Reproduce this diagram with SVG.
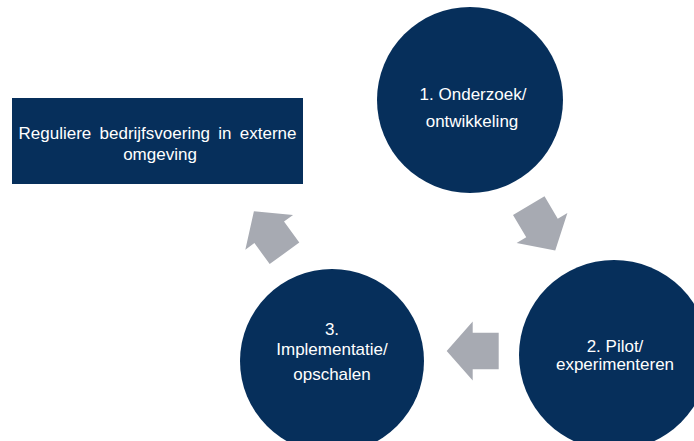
<svg xmlns="http://www.w3.org/2000/svg" width="694" height="441" viewBox="0 0 694 441">
<defs>
<style>
.node{fill:#062f5b}
.lbl{fill:#ffffff;font-family:"Liberation Sans",Arial,sans-serif;font-size:17px;text-anchor:middle}
.arrow{fill:#a7aab2}
</style>
<path id="blk" d="M-26,-18.3 L0,-18.3 L0,-29.5 L26,0 L0,29.5 L0,18.3 L-26,18.3 Z"/>
</defs>
<rect width="694" height="441" fill="#ffffff"/>
<g id="connectors">
<use href="#blk" class="arrow" transform="translate(542,228) rotate(59.4)"/>
<use href="#blk" class="arrow" transform="translate(472.7,351) rotate(180)"/>
<use href="#blk" class="arrow" transform="translate(269.2,232.3) rotate(-126)"/>
</g>
<g id="box">
<rect class="node" x="12" y="98" width="291" height="86"/>
<text class="lbl" x="157.5" y="139" word-spacing="3.5">Reguliere bedrijfsvoering in externe</text>
<text class="lbl" x="160" y="160">omgeving</text>
</g>
<g id="step1">
<circle class="node" cx="470" cy="100" r="93"/>
<text class="lbl" x="473" y="100">1. Onderzoek/</text>
<text class="lbl" x="472" y="127">ontwikkeling</text>
</g>
<g id="step2">
<circle class="node" cx="614" cy="355" r="95"/>
<text class="lbl" x="615" y="352">2. Pilot/</text>
<text class="lbl" x="615" y="370">experimenteren</text>
</g>
<g id="step3">
<circle class="node" cx="332" cy="361" r="92"/>
<text class="lbl" x="332" y="335">3.</text>
<text class="lbl" x="332" y="355">Implementatie/</text>
<text class="lbl" x="332" y="380">opschalen</text>
</g>
</svg>
